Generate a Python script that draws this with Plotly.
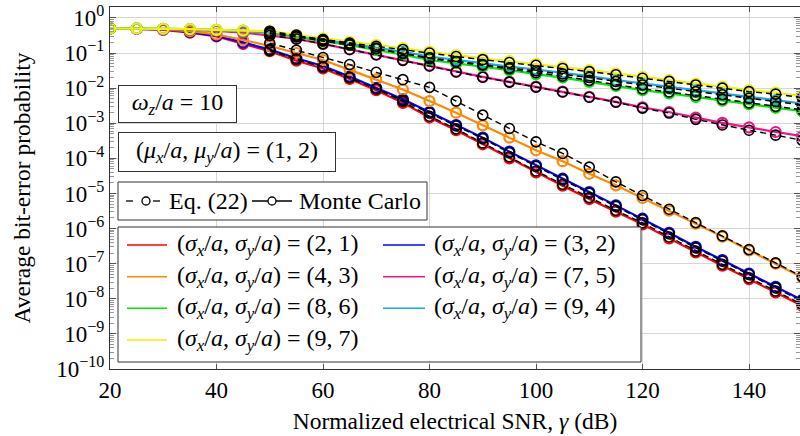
import plotly.graph_objects as go

# ---------------- data ----------------
snr_mc = [20, 25, 30, 35, 40, 45, 50, 55, 60, 65, 70, 75, 80, 85, 90, 95, 100,
          105, 110, 115, 120, 125, 130, 135, 140, 145, 150]
snr_eq = [50, 55, 60, 65, 70, 75, 80, 85, 90, 95, 100, 105, 110, 115, 120, 125,
          130, 135, 140, 145, 150]

series_labels = ["(2, 1)", "(3, 2)", "(4, 3)", "(7, 5)", "(8, 6)", "(9, 4)", "(9, 7)"]
series_colors = ["#ff0000", "#0000ff", "#ff8800", "#f0148c", "#00e800", "#1ea5e6", "#f5f000"]

mc_21 = [0.50, 0.49, 0.457, 0.380, 0.295, 0.182, 0.112, 0.0603, 0.0363, 0.0182, 8.71e-3,
         3.80e-3, 1.45e-3, 6.31e-4, 2.51e-4, 1.00e-4, 3.98e-5, 1.66e-5, 6.92e-6, 3.02e-6,
         1.32e-6, 5.25e-7, 2.09e-7, 8.71e-8, 3.63e-8, 1.51e-8, 6.31e-9]
mc_32 = [0.50, 0.49, 0.468, 0.398, 0.309, 0.200, 0.126, 0.0708, 0.0427, 0.0214, 0.0102,
         4.79e-3, 2.09e-3, 8.91e-4, 3.89e-4, 1.55e-4, 6.31e-5, 2.63e-5, 1.10e-5, 4.57e-6,
         1.91e-6, 7.59e-7, 3.02e-7, 1.26e-7, 5.25e-8, 2.19e-8, 9.12e-9]
mc_43 = [0.50, 0.49, 0.468, 0.417, 0.339, 0.234, 0.158, 0.100, 0.0631, 0.0331, 0.0178,
         9.12e-3, 4.27e-3, 2.00e-3, 8.71e-4, 3.89e-4, 1.70e-4, 8.32e-5, 3.63e-5, 1.70e-5,
         7.41e-6, 3.24e-6, 1.38e-6, 5.89e-7, 2.40e-7, 1.00e-7, 4.07e-8]
mc_75 = [0.50, 0.49, 0.479, 0.457, 0.427, 0.380, 0.316, 0.251, 0.182, 0.126, 0.0891,
         0.0631, 0.0437, 0.0295, 0.0209, 0.0151, 0.0110, 7.94e-3, 5.62e-3, 4.07e-3,
         2.82e-3, 2.09e-3, 1.45e-3, 1.02e-3, 7.59e-4, 5.62e-4, 4.27e-4]
mc_86 = [0.50, 0.50, 0.49, 0.468, 0.447, 0.417, 0.380, 0.295, 0.219, 0.166, 0.123,
         0.0891, 0.0631, 0.0513, 0.0407, 0.0324, 0.0251, 0.0200, 0.0151, 0.0115,
         8.71e-3, 7.08e-3, 5.62e-3, 4.37e-3, 3.47e-3, 2.75e-3, 2.19e-3]
mc_94 = [0.50, 0.50, 0.49, 0.479, 0.457, 0.437, 0.389, 0.316, 0.240, 0.186, 0.145,
         0.107, 0.0794, 0.0631, 0.0513, 0.0407, 0.0339, 0.0275, 0.0219, 0.0170,
         0.0135, 0.0110, 8.71e-3, 7.08e-3, 5.62e-3, 4.57e-3, 3.63e-3]
mc_97 = [0.50, 0.50, 0.49, 0.479, 0.457, 0.437, 0.417, 0.331, 0.263, 0.209, 0.170,
         0.138, 0.110, 0.0871, 0.0708, 0.0589, 0.0490, 0.0398, 0.0324, 0.0263,
         0.0209, 0.0170, 0.0135, 0.0110, 8.71e-3, 7.41e-3, 5.89e-3]

eq_21 = [0.126, 0.0676, 0.0398, 0.0200, 9.55e-3, 4.17e-3, 1.58e-3, 6.92e-4, 2.75e-4,
         1.10e-4, 4.37e-5, 1.82e-5, 7.59e-6, 3.31e-6, 1.45e-6, 5.75e-7, 2.29e-7, 9.55e-8,
         3.98e-8, 1.66e-8, 6.92e-9]
eq_32 = [0.117, 0.0661, 0.0398, 0.0200, 9.55e-3, 4.47e-3, 1.95e-3, 8.32e-4, 3.63e-4,
         1.45e-4, 5.89e-5, 2.45e-5, 1.02e-5, 4.27e-6, 1.78e-6, 7.08e-7, 2.82e-7, 1.17e-7,
         4.90e-8, 2.04e-8, 8.51e-9]
eq_43 = [0.191, 0.120, 0.0741, 0.0468, 0.0282, 0.0174, 0.0105, 4.27e-3, 1.70e-3,
         7.08e-4, 2.95e-4, 1.38e-4, 5.62e-5, 2.14e-5, 8.71e-6, 3.55e-6, 1.48e-6, 6.17e-7,
         2.51e-7, 1.05e-7, 4.27e-8]
eq_75 = [0.316, 0.251, 0.182, 0.126, 0.0891, 0.0617, 0.0427, 0.0288, 0.0204, 0.0148,
         0.0107, 7.76e-3, 5.50e-3, 3.98e-3, 2.69e-3, 1.95e-3, 1.29e-3, 8.91e-4, 6.31e-4,
         4.57e-4, 3.24e-4]
eq_86 = [0.417, 0.324, 0.240, 0.182, 0.135, 0.0977, 0.0692, 0.0562, 0.0447, 0.0355,
         0.0275, 0.0219, 0.0166, 0.0126, 9.55e-3, 7.76e-3, 6.17e-3, 4.79e-3, 3.80e-3,
         3.02e-3, 2.40e-3]
eq_94 = [0.355, 0.288, 0.219, 0.170, 0.132, 0.0977, 0.0724, 0.0575, 0.0468, 0.0372,
         0.0309, 0.0251, 0.0200, 0.0155, 0.0123, 0.0100, 7.94e-3, 6.46e-3, 5.13e-3,
         4.17e-3, 3.31e-3]
eq_97 = [0.380, 0.302, 0.240, 0.191, 0.155, 0.126, 0.100, 0.0794, 0.0646, 0.0537,
         0.0447, 0.0363, 0.0295, 0.0240, 0.0191, 0.0155, 0.0123, 0.0100, 7.94e-3,
         6.76e-3, 5.37e-3]

mc_series = [mc_21, mc_32, mc_43, mc_75, mc_86, mc_94, mc_97]
eq_series = [eq_21, eq_32, eq_43, eq_75, eq_86, eq_94, eq_97]

x_ticks = [20, 40, 60, 80, 100, 120, 140]
y_exponents = [-10, -9, -8, -7, -6, -5, -4, -3, -2, -1, 0]

# ---------------- figure ----------------
FONT = "Liberation Serif"
FRAME = "#333333"
fig = go.Figure()

for c, y, lab in zip(series_colors, mc_series, series_labels):
    fig.add_trace(go.Scatter(
        x=snr_mc, y=y, mode="lines+markers", showlegend=False,
        name="Monte Carlo " + lab,
        line=dict(color=c, width=2.2),
        marker=dict(symbol="circle-open", size=10, color=c, line=dict(width=2.2, color=c))))

for y, lab in zip(eq_series, series_labels):
    fig.add_trace(go.Scatter(
        x=snr_eq, y=y, mode="lines+markers", showlegend=False,
        name="Eq. (22) " + lab,
        line=dict(color="black", width=1.4, dash="6px,4px"),
        marker=dict(symbol="circle-open", size=10, color="black", line=dict(width=1.6, color="black"))))

L, R, T, B = 110, 0, 7, 67
W, H = 800, 436
pw, ph = W - L - R, H - T - B


def px(xp):
    return (xp - L) / pw


def py(yp):
    return (H - B - yp) / ph


shapes = []
annotations = []

# ---- text boxes ----
annotations.append(dict(
    text="<i>ω<sub>z</sub></i>/<i>a</i> = 10", xref="paper", yref="paper",
    x=px(118), y=py(85), xanchor="left", yanchor="top", showarrow=False,
    width=117, height=36, borderpad=0, align="center", valign="middle",
    bgcolor="white", bordercolor=FRAME, borderwidth=1,
    font=dict(family=FONT, size=24, color="black")))
annotations.append(dict(
    text="(<i>μ<sub>x</sub></i>/<i>a</i>, <i>μ<sub>y</sub></i>/<i>a</i>) = (1, 2)",
    xref="paper", yref="paper",
    x=px(118), y=py(132), xanchor="left", yanchor="top", showarrow=False,
    width=216, height=38, borderpad=0, align="center", valign="middle",
    bgcolor="white", bordercolor=FRAME, borderwidth=1,
    font=dict(family=FONT, size=24, color="black")))

# ---- method legend (Eq. (22) / Monte Carlo) ----
shapes.append(dict(type="rect", xref="paper", yref="paper", layer="above",
                   x0=px(118), x1=px(427), y0=py(220), y1=py(182),
                   fillcolor="white", line=dict(color=FRAME, width=1)))
ly = py(201)
for xa, xb in [(126, 133), (153, 160)]:
    shapes.append(dict(type="line", xref="paper", yref="paper", layer="above",
                       x0=px(xa), x1=px(xb), y0=ly, y1=ly,
                       line=dict(color="black", width=1.3)))
shapes.append(dict(type="line", xref="paper", yref="paper", layer="above",
                   x0=px(252), x1=px(292), y0=ly, y1=ly,
                   line=dict(color="black", width=1.3)))
for xc in (146, 272):
    shapes.append(dict(type="circle", xref="paper", yref="paper", layer="above",
                       xsizemode="pixel", ysizemode="pixel",
                       xanchor=px(xc), yanchor=ly, x0=-4, x1=4, y0=-4, y1=4,
                       fillcolor="white", line=dict(color="black", width=1.3)))
for txt, xt in [("Eq. (22)", 167), ("Monte Carlo", 297)]:
    annotations.append(dict(text=txt, xref="paper", yref="paper", x=px(xt), y=ly,
                            xanchor="left", yanchor="middle", showarrow=False,
                            font=dict(family=FONT, size=24, color="black")))

# ---- series legend ----
shapes.append(dict(type="rect", xref="paper", yref="paper", layer="above",
                   x0=px(118), x1=px(641), y0=py(362), y1=py(227),
                   fillcolor="white", line=dict(color=FRAME, width=1)))
row_y = [245, 276.7, 308.3, 340]
col_line = [(127, 167), (383, 425)]
col_text = [175, 432]
for i, (c, lab) in enumerate(zip(series_colors, series_labels)):
    col, row = i % 2, i // 2
    yy = py(row_y[row])
    shapes.append(dict(type="line", xref="paper", yref="paper", layer="above",
                       x0=px(col_line[col][0]), x1=px(col_line[col][1]), y0=yy, y1=yy,
                       line=dict(color=c, width=1.4)))
    annotations.append(dict(
        text="(<i>σ<sub>x</sub></i>/<i>a</i>, <i>σ<sub>y</sub></i>/<i>a</i>) = " + lab,
        xref="paper", yref="paper", x=px(col_text[col]), y=yy,
        xanchor="left", yanchor="middle", showarrow=False,
        font=dict(family=FONT, size=24, color="black")))

minor_vals = [m * 10.0 ** e for e in range(-10, 0) for m in range(2, 10)]

fig.update_layout(
    width=W, height=H,
    margin=dict(l=L, r=R, t=T, b=B),
    paper_bgcolor="white", plot_bgcolor="white",
    font=dict(family=FONT, size=22, color="black"),
    showlegend=False,
    xaxis=dict(
        range=[20, 20 + pw / 5.325], tickvals=x_ticks, ticktext=[str(v) for v in x_ticks],
        showgrid=True, gridcolor="#d6d6d6", gridwidth=1.2, zeroline=False,
        showline=True, linecolor=FRAME, linewidth=1, mirror="ticks",
        ticks="inside", ticklen=5, tickcolor="#555555",
        tickfont=dict(family=FONT, size=23, color="black"),
        title=dict(text="Normalized electrical SNR, <i>γ</i> (dB)", standoff=10,
                   font=dict(family=FONT, size=23.5, color="black")),
    ),
    yaxis=dict(
        type="log", range=[-10, 0.31],
        tickvals=[10.0 ** e for e in y_exponents],
        ticktext=["10<sup>" + (str(e).replace("-", "−")) + "</sup>" for e in y_exponents],
        showgrid=True, gridcolor="#d6d6d6", gridwidth=1.2, zeroline=False,
        showline=True, linecolor=FRAME, linewidth=1, mirror="ticks",
        ticks="inside", ticklen=6, tickcolor="#555555",
        tickfont=dict(family=FONT, size=23, color="black"),
        minor=dict(tickvals=minor_vals, ticks="inside", ticklen=4, tickcolor="#999999", showgrid=False),
        title=dict(text="Average bit-error probability", standoff=19,
                   font=dict(family=FONT, size=23.5, color="black")),
    ),
    shapes=shapes,
    annotations=annotations,
)

fig.write_html("out.html")
